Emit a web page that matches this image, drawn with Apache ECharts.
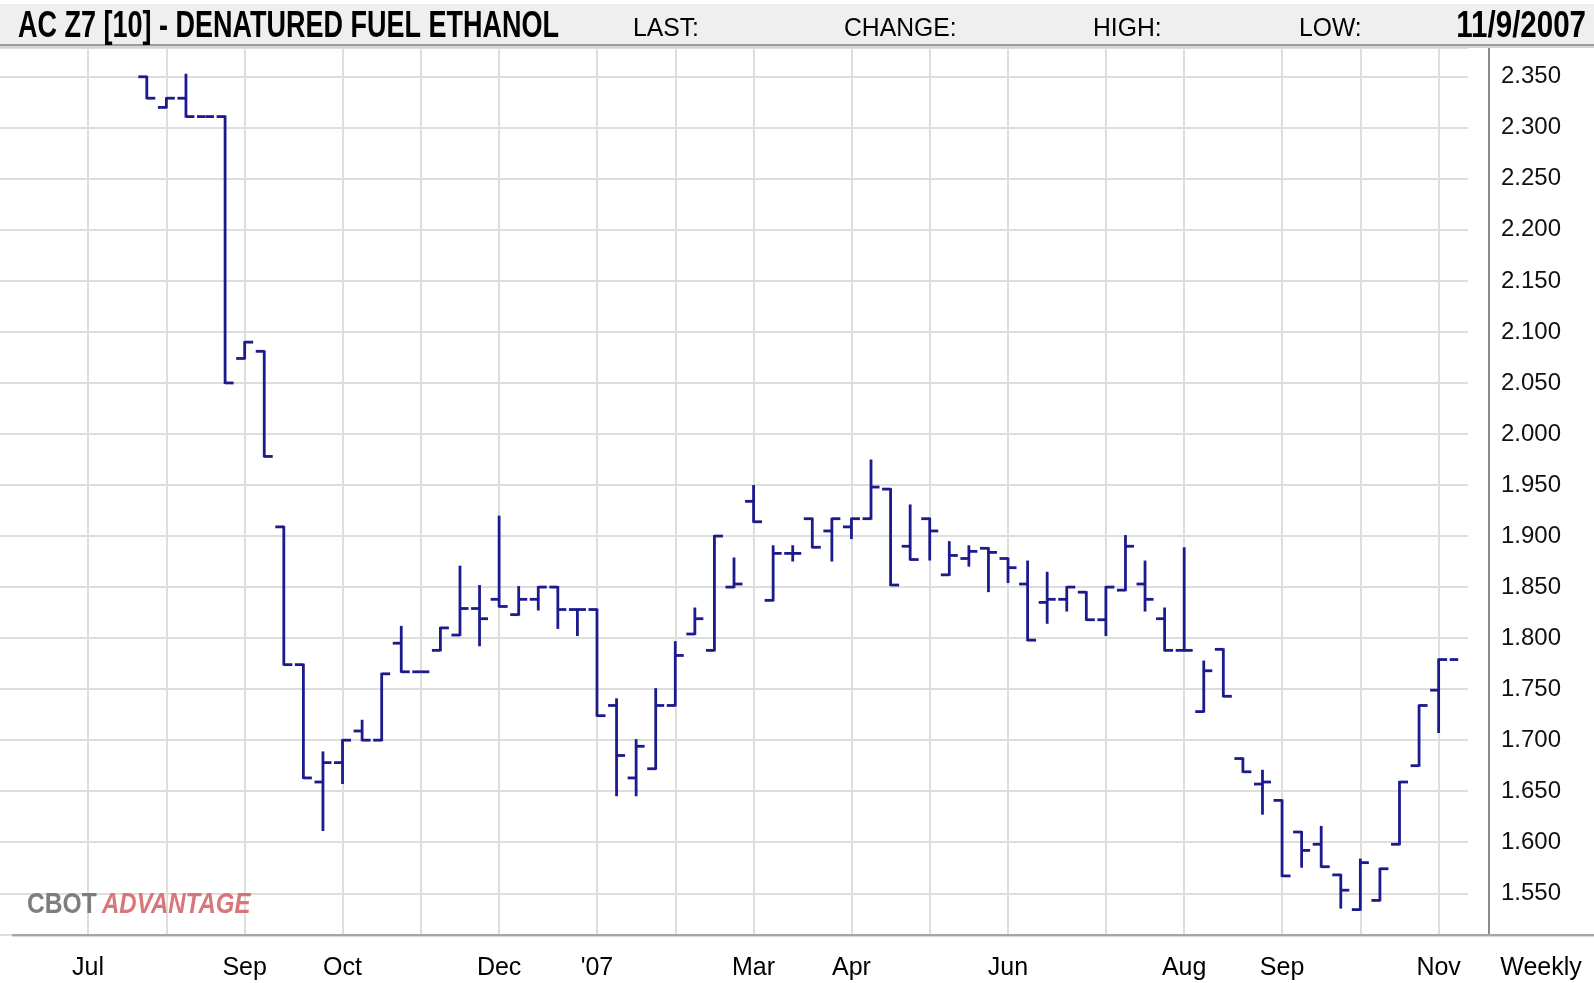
<!DOCTYPE html>
<html>
<head>
<meta charset="utf-8">
<title>AC Z7 - Denatured Fuel Ethanol</title>
<script src="https://cdn.jsdelivr.net/npm/echarts@6/dist/echarts.min.js"></script>
<style>
  html, body { margin: 0; padding: 0; background: #fff; }
  #chart { width: 1594px; height: 983px; }
</style>
</head>
<body>
<div id="chart"></div>
<script>
// weekly bars, one per Friday
var weeks = [
  '2006-06-09', '2006-06-16', '2006-06-23', '2006-06-30', '2006-07-07', '2006-07-14', '2006-07-21',
  '2006-07-28', '2006-08-04', '2006-08-11', '2006-08-18', '2006-08-25', '2006-09-01', '2006-09-08',
  '2006-09-15', '2006-09-22', '2006-09-29', '2006-10-06', '2006-10-13', '2006-10-20', '2006-10-27',
  '2006-11-03', '2006-11-10', '2006-11-17', '2006-11-24', '2006-12-01', '2006-12-08', '2006-12-15',
  '2006-12-22', '2006-12-29', '2007-01-05', '2007-01-12', '2007-01-19', '2007-01-26', '2007-02-02',
  '2007-02-09', '2007-02-16', '2007-02-23', '2007-03-02', '2007-03-09', '2007-03-16', '2007-03-23',
  '2007-03-30', '2007-04-06', '2007-04-13', '2007-04-20', '2007-04-27', '2007-05-04', '2007-05-11',
  '2007-05-18', '2007-05-25', '2007-06-01', '2007-06-08', '2007-06-15', '2007-06-22', '2007-06-29',
  '2007-07-06', '2007-07-13', '2007-07-20', '2007-07-27', '2007-08-03', '2007-08-10', '2007-08-17',
  '2007-08-24', '2007-08-31', '2007-09-07', '2007-09-14', '2007-09-21', '2007-09-28', '2007-10-05',
  '2007-10-12', '2007-10-19', '2007-10-26', '2007-11-02', '2007-11-09'
];

var open = [
  null, null, null, null, null, null, null,
  2.350, 2.320, 2.329, 2.311, 2.311, 2.074, 2.081,
  1.909, 1.774, 1.659, 1.678, 1.709, 1.700, 1.795,
  1.767, 1.788, 1.803, 1.829, 1.838, 1.823, 1.838,
  1.850, 1.828, 1.828, 1.734, 1.663, 1.672, 1.734,
  1.804, 1.788, 1.850, 1.934, 1.837, 1.883, 1.917,
  1.905, 1.909, 1.917, 1.946, 1.890, 1.917, 1.862,
  1.878, 1.888, 1.878, 1.853, 1.835, 1.838, 1.845,
  1.818, 1.847, 1.853, 1.819, 1.788, 1.728, 1.789,
  1.682, 1.657, 1.641, 1.610, 1.598, 1.568, 1.534,
  1.543, 1.598, 1.675, 1.749, 1.779
];
var high = [
  null, null, null, null, null, null, null,
  2.350, 2.329, 2.352, 2.311, 2.311, 2.090, 2.081,
  1.909, 1.774, 1.688, 1.700, 1.719, 1.765, 1.811,
  1.767, 1.810, 1.870, 1.851, 1.919, 1.850, 1.850,
  1.850, 1.828, 1.828, 1.740, 1.700, 1.750, 1.796,
  1.829, 1.900, 1.878, 1.949, 1.890, 1.890, 1.917,
  1.917, 1.917, 1.974, 1.946, 1.930, 1.917, 1.894,
  1.890, 1.888, 1.878, 1.875, 1.864, 1.850, 1.845,
  1.850, 1.900, 1.875, 1.829, 1.888, 1.777, 1.789,
  1.682, 1.670, 1.641, 1.610, 1.615, 1.568, 1.583,
  1.574, 1.659, 1.734, 1.779, 1.779
];
var low = [
  null, null, null, null, null, null, null,
  2.329, 2.320, 2.311, 2.311, 2.050, 2.074, 1.978,
  1.774, 1.663, 1.612, 1.658, 1.700, 1.700, 1.767,
  1.767, 1.788, 1.803, 1.793, 1.831, 1.823, 1.828,
  1.810, 1.803, 1.724, 1.646, 1.646, 1.672, 1.734,
  1.804, 1.788, 1.850, 1.914, 1.837, 1.876, 1.889,
  1.876, 1.898, 1.917, 1.852, 1.877, 1.877, 1.862,
  1.871, 1.846, 1.855, 1.798, 1.815, 1.827, 1.818,
  1.803, 1.847, 1.827, 1.788, 1.788, 1.728, 1.743,
  1.669, 1.628, 1.567, 1.576, 1.576, 1.536, 1.534,
  1.543, 1.598, 1.675, 1.708, 1.779
];
var close = [
  null, null, null, null, null, null, null,
  2.329, 2.329, 2.311, 2.311, 2.050, 2.090, 1.978,
  1.774, 1.663, 1.678, 1.700, 1.700, 1.765, 1.767,
  1.767, 1.810, 1.829, 1.819, 1.831, 1.838, 1.850,
  1.828, 1.828, 1.724, 1.685, 1.694, 1.734, 1.783,
  1.819, 1.900, 1.853, 1.914, 1.883, 1.883, 1.889,
  1.917, 1.917, 1.948, 1.852, 1.877, 1.905, 1.881,
  1.885, 1.884, 1.869, 1.798, 1.838, 1.850, 1.818,
  1.850, 1.890, 1.838, 1.788, 1.788, 1.768, 1.743,
  1.669, 1.659, 1.567, 1.592, 1.576, 1.553, 1.580,
  1.574, 1.659, 1.734, 1.779, null
];

// first Friday of each month gets a grid line
var monthWeeks = [
  '2006-07-07', '2006-08-04', '2006-09-01', '2006-10-06', '2006-11-03', '2006-12-01',
  '2007-01-05', '2007-02-02', '2007-03-02', '2007-04-06', '2007-05-04', '2007-06-01',
  '2007-07-06', '2007-08-03', '2007-09-07', '2007-10-05', '2007-11-02'
];
var labelWeeks = ['2006-07-07', '2006-09-01', '2006-10-06', '2006-12-01', '2007-01-05', '2007-03-02',
  '2007-04-06', '2007-06-01', '2007-08-03', '2007-09-07', '2007-11-02'];
var labelNames = ['Jul', 'Sep', 'Oct', 'Dec', "'07", 'Mar', 'Apr', 'Jun', 'Aug', 'Sep', 'Nov'];

var yMin = 1.5091;
var yMax = 2.3782;

var barData = [];
for (var i = 0; i < weeks.length; i++) {
  if (open[i] == null) continue;
  barData.push([i, open[i], high[i], low[i], close[i]]);
}

var BAR_COLOR = '#1b1b8e';
var TICK = 8.5;
var FONT = '"Liberation Sans", Arial, sans-serif';

function renderOhlc(params, api) {
  var idx = api.value(0);
  var o = api.value(1), h = api.value(2), l = api.value(3), c = api.value(4);
  var x = api.coord([idx, o])[0];
  var yO = api.coord([idx, o])[1];
  var yH = api.coord([idx, h])[1];
  var yL = api.coord([idx, l])[1];
  var style = { stroke: BAR_COLOR, lineWidth: 2.8 };
  var children = [];
  if (yL - yH > 0.5) {
    children.push({ type: 'line', shape: { x1: x, y1: yH - 1, x2: x, y2: yL + 1 }, style: style });
  }
  children.push({ type: 'line', shape: { x1: x - TICK, y1: yO, x2: x, y2: yO }, style: style });
  if (c != null && !isNaN(c)) {
    var yC = api.coord([idx, c])[1];
    children.push({ type: 'line', shape: { x1: x, y1: yC, x2: x + TICK, y2: yC }, style: style });
  }
  return { type: 'group', children: children };
}

function headerText(txt, x, y, size, bold, sx, align) {
  return {
    type: 'text', x: x, y: y, scaleX: sx || 1, z: 10,
    style: {
      text: txt, x: 0, y: 0, fill: '#000',
      font: (bold ? 'bold ' : '') + size + 'px ' + FONT,
      textAlign: align || 'left', align: align || 'left',
      textVerticalAlign: 'middle', verticalAlign: 'middle'
    }
  };
}

var chart = echarts.init(document.getElementById('chart'));
chart.setOption({
  backgroundColor: '#fff',
  animation: false,
  grid: { left: 0, right: 126, top: 48, bottom: 48 },
  xAxis: {
    type: 'category',
    data: weeks,
    boundaryGap: true,
    axisLine: { show: false },
    axisTick: { show: false },
    axisLabel: {
      interval: function (index, value) { return labelWeeks.indexOf(value) >= 0; },
      formatter: function (value) { return labelNames[labelWeeks.indexOf(value)]; },
      margin: 21,
      color: '#000',
      fontFamily: FONT,
      fontSize: 25
    },
    splitLine: {
      show: true,
      alignWithLabel: true,
      interval: function (index, value) { return monthWeeks.indexOf(value) >= 0; },
      lineStyle: { color: '#dedede', width: 2 }
    }
  },
  yAxis: {
    type: 'value',
    position: 'right',
    offset: 21,
    min: yMin,
    max: yMax,
    splitNumber: 17,
    axisLine: { show: true, lineStyle: { color: '#8c8c8c', width: 2 } },
    axisTick: { show: false },
    axisLabel: {
      margin: 12,
      padding: [9, 0, 0, 0],
      color: '#111',
      fontFamily: FONT,
      fontSize: 24,
      showMinLabel: false,
      showMaxLabel: false,
      formatter: function (v) {
        var k = v / 0.05;
        if (Math.abs(k - Math.round(k)) > 1e-6) return '';
        return v.toFixed(3);
      }
    },
    splitLine: { show: true, lineStyle: { color: '#dedede', width: 2 } }
  },
  graphic: [
    { type: 'rect', shape: { x: 0, y: 4, width: 1594, height: 40 }, style: { fill: '#efefef' }, z: 5 },
    { type: 'rect', shape: { x: 0, y: 44, width: 1594, height: 2 }, style: { fill: '#9c9c9c' }, z: 5 },
    { type: 'rect', shape: { x: 0, y: 46, width: 1594, height: 2 }, style: { fill: '#d6d6d6' }, z: 5 },
    headerText('AC Z7 [10] - DENATURED FUEL ETHANOL', 18, 27, 36, true, 0.75),
    headerText('LAST:', 633, 29, 26, false, 0.95),
    headerText('CHANGE:', 844, 29, 26, false, 0.95),
    headerText('HIGH:', 1093, 29, 26, false, 0.95),
    headerText('LOW:', 1299, 29, 26, false, 0.95),
    headerText('11/9/2007', 1586, 27, 36, true, 0.82, 'right'),
    { type: 'rect', shape: { x: 12, y: 934, width: 1582, height: 2 }, style: { fill: '#a6a6a6' }, z: 5 },
    { type: 'rect', shape: { x: 12, y: 936, width: 1582, height: 1 }, style: { fill: '#d8d8d8' }, z: 5 },
    {
      type: 'text', x: 1541, y: 968, z: 10,
      style: {
        text: 'Weekly', x: 0, y: 0, fill: '#000', font: '25px ' + FONT,
        textAlign: 'center', align: 'center', textVerticalAlign: 'middle', verticalAlign: 'middle'
      }
    },
    {
      type: 'text', x: 27, y: 905, scaleX: 0.82, z: 10,
      style: {
        text: 'CBOT', x: 0, y: 0, fill: '#707070', opacity: 0.9, font: 'bold 30px ' + FONT,
        textAlign: 'left', align: 'left', textVerticalAlign: 'middle', verticalAlign: 'middle'
      }
    },
    {
      type: 'text', x: 102, y: 905, scaleX: 0.8, z: 10,
      style: {
        text: 'ADVANTAGE', x: 0, y: 0, fill: '#d4676c', opacity: 0.9, font: 'italic bold 30px ' + FONT,
        textAlign: 'left', align: 'left', textVerticalAlign: 'middle', verticalAlign: 'middle'
      }
    }
  ],
  series: [{
    type: 'custom',
    name: 'AC Z7',
    renderItem: renderOhlc,
    encode: { x: 0, y: [1, 2, 3, 4] },
    data: barData,
    clip: true,
    z: 3
  }]
});
</script>
</body>
</html>
